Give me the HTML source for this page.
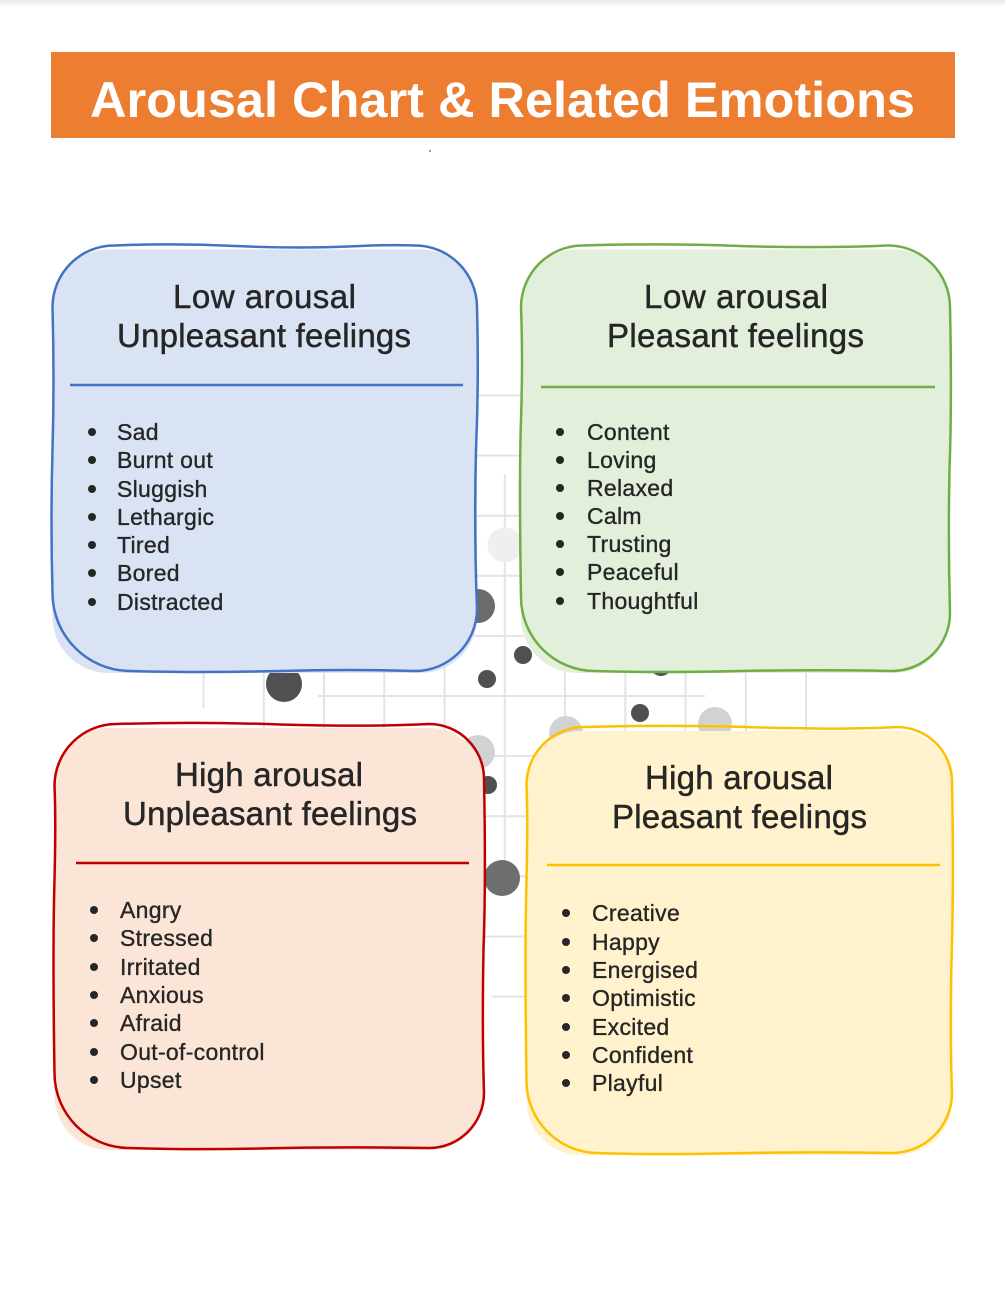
<!DOCTYPE html>
<html>
<head>
<meta charset="utf-8">
<style>
html,body{margin:0;padding:0;background:#fff;}
body{width:1005px;height:1306px;overflow:hidden;position:relative;}
svg{position:absolute;left:0;top:0;}
.t{font-family:"Liberation Sans",Arial,sans-serif;fill:#262626;stroke:#262626;stroke-width:0.45px;}
.h{font-size:33px;}
.li{font-size:23px;letter-spacing:0.3px;stroke-width:0.35px;}
</style>
</head>
<body>
<svg width="1005" height="1306" viewBox="0 0 1005 1306" xmlns="http://www.w3.org/2000/svg">
  <defs>
    <linearGradient id="topg" x1="0" y1="0" x2="0" y2="1">
      <stop offset="0" stop-color="#e9e9e9"/>
      <stop offset="1" stop-color="#ffffff"/>
    </linearGradient>
  </defs>
  <rect x="0" y="0" width="1005" height="7" fill="url(#topg)"/>

  <!-- Title bar -->
  <rect x="51" y="52" width="904" height="86" fill="#ed7d31"/>
  <text x="502.5" y="117" text-anchor="middle" textLength="825" lengthAdjust="spacingAndGlyphs" font-family="Liberation Sans, Arial, sans-serif" font-weight="bold" font-size="50" fill="#ffffff">Arousal Chart &amp; Related Emotions</text>
  <rect x="429" y="150" width="2" height="2" fill="#ed7d31"/>

  <!-- Background grid -->
  <g stroke="#e4e4e4" stroke-width="2" fill="none">
    <line x1="203.5" y1="395" x2="203.5" y2="708"/>
    <line x1="263.8" y1="395" x2="263.8" y2="996"/>
    <line x1="324" y1="395" x2="324" y2="996"/>
    <line x1="384.3" y1="395" x2="384.3" y2="996"/>
    <line x1="444.6" y1="395" x2="444.6" y2="996"/>
    <line x1="504.8" y1="474" x2="504.8" y2="878"/>
    <line x1="565" y1="395" x2="565" y2="996"/>
    <line x1="625.3" y1="395" x2="625.3" y2="996"/>
    <line x1="685.6" y1="395" x2="685.6" y2="996"/>
    <line x1="745.8" y1="395" x2="745.8" y2="996"/>
    <line x1="806" y1="395" x2="806" y2="996"/>

    <line x1="203" y1="395.5" x2="806" y2="395.5"/>
    <line x1="203" y1="455.6" x2="806" y2="455.6"/>
    <line x1="203" y1="515.7" x2="806" y2="515.7"/>
    <line x1="203" y1="575.8" x2="806" y2="575.8"/>
    <line x1="203" y1="636" x2="806" y2="636"/>
    <line x1="318" y1="696" x2="705" y2="696"/>
    <line x1="203" y1="756" x2="806" y2="756"/>
    <line x1="203" y1="816.3" x2="806" y2="816.3"/>
    <line x1="203" y1="876.4" x2="806" y2="876.4"/>
    <line x1="203" y1="936.5" x2="806" y2="936.5"/>
    <line x1="492" y1="996.6" x2="806" y2="996.6"/>
  </g>

  <!-- Background circles -->
  <circle cx="505" cy="545" r="17.5" fill="#efefef"/>
  <circle cx="478" cy="606" r="17" fill="#6b6b6b"/>
  <circle cx="661" cy="665" r="11" fill="#505050"/>
  <circle cx="284" cy="684" r="18" fill="#505050"/>
  <circle cx="487" cy="679" r="9" fill="#505050"/>
  <circle cx="523" cy="655" r="9" fill="#505050"/>
  <circle cx="478" cy="752" r="17" fill="#d2d2d2"/>
  <circle cx="488" cy="785" r="9" fill="#505050"/>
  <circle cx="502" cy="878" r="18" fill="#6e6e6e"/>
  <circle cx="640" cy="713" r="9" fill="#505050"/>
  <circle cx="715" cy="724" r="17" fill="#d2d2d2"/>
  <circle cx="566" cy="733" r="17" fill="#d2d2d2"/>

  <!-- Blue box -->
  <rect x="52.5" y="249.5" width="424.5" height="423.5" rx="56" fill="#dae3f3"/>
  <path d="M 114.5 245.5 Q 175 243 235 246 Q 300 249 360 246 Q 390 244.5 415 245.5 C 449 245.5 477 273 477 307.5 Q 479 380 476 450 Q 474 530 477 609 C 477 643 449 671 415 671 Q 350 669 280 671 Q 200 673 130.5 671 C 87.5 671 52.5 636 52.5 593 Q 50.5 520 52.5 450 Q 54.5 380 52.5 307.5 C 52.5 273 80 245.5 114.5 245.5 Z" fill="none" stroke="#4472c4" stroke-width="2.5"/>
  <line x1="70" y1="385" x2="463" y2="385" stroke="#4472c4" stroke-width="2.5"/>

  <!-- Green box -->
  <rect x="521" y="249.5" width="429" height="423.5" rx="56" fill="#e2efda"/>
  <path d="M 583 245.5 Q 660 243 740 246 Q 820 248.5 888 245.5 C 922.2 245.5 950 273.3 950 307.5 Q 952 400 949.5 470 Q 948 540 950 613 C 950 645 924 671 892 671 Q 820 669.5 740 671 Q 660 673 595 671 C 554.1 671 521 637.9 521 597 Q 519 480 521 420 Q 523 360 521 307.5 C 521 273.3 548.8 245.5 583 245.5 Z" fill="none" stroke="#70ad47" stroke-width="2.5"/>
  <line x1="541" y1="387" x2="935" y2="387" stroke="#70ad47" stroke-width="2.5"/>

  <!-- Red box -->
  <rect x="54.5" y="728" width="429.5" height="422" rx="54" fill="#fbe5d6"/>
  <path d="M 116.5 724 Q 200 721.5 280 724.5 Q 370 727 429 724 C 459.4 724 484 748.6 484 779 Q 486 880 483.5 950 Q 482 1030 484 1093 C 484 1123.4 459.4 1148 429 1148 Q 340 1146.5 260 1148.5 Q 190 1150 129.5 1148 C 88.1 1148 54.5 1114.4 54.5 1073 Q 52.5 950 54.5 880 Q 56 820 54.5 786 C 54.5 751.8 82.3 724 116.5 724 Z" fill="none" stroke="#c00000" stroke-width="2.5"/>
  <line x1="76" y1="863" x2="469" y2="863" stroke="#c00000" stroke-width="2.5"/>

  <!-- Yellow box -->
  <rect x="526.5" y="731" width="425.5" height="424" rx="54" fill="#fff2cc"/>
  <path d="M 584.5 727 Q 680 724.5 760 727.5 Q 850 730 897 727 C 927.4 727 952 751.6 952 782 Q 954 880 951.5 960 Q 950 1040 952 1093 C 952 1126.1 925.1 1153 892 1153 Q 800 1151.5 720 1153.5 Q 650 1155 598.5 1153 C 558.7 1153 526.5 1120.8 526.5 1081 Q 524.5 950 526.5 880 Q 528 820 526.5 785 C 526.5 753 552.5 727 584.5 727 Z" fill="none" stroke="#ffc000" stroke-width="2.5"/>
  <line x1="547" y1="865" x2="940" y2="865" stroke="#ffc000" stroke-width="2.5"/>

  <!-- Blue text -->
  <text class="t h" x="264.5" y="308" text-anchor="middle" textLength="183">Low arousal</text>
  <text class="t h" x="264" y="347" text-anchor="middle" textLength="294">Unpleasant feelings</text>
  <g fill="#262626">
    <circle cx="92" cy="432" r="4"/><circle cx="92" cy="460" r="4"/><circle cx="92" cy="489" r="4"/><circle cx="92" cy="517" r="4"/><circle cx="92" cy="545" r="4"/><circle cx="92" cy="573" r="4"/><circle cx="92" cy="602" r="4"/>
  </g>
  <text class="t li" x="117" y="440">Sad</text>
  <text class="t li" x="117" y="468">Burnt out</text>
  <text class="t li" x="117" y="497">Sluggish</text>
  <text class="t li" x="117" y="525">Lethargic</text>
  <text class="t li" x="117" y="553">Tired</text>
  <text class="t li" x="117" y="581">Bored</text>
  <text class="t li" x="117" y="610">Distracted</text>

  <!-- Green text -->
  <text class="t h" x="736" y="308" text-anchor="middle" textLength="184">Low arousal</text>
  <text class="t h" x="735.5" y="347" text-anchor="middle" textLength="257">Pleasant feelings</text>
  <g fill="#262626">
    <circle cx="560" cy="432" r="4"/><circle cx="560" cy="460" r="4"/><circle cx="560" cy="488" r="4"/><circle cx="560" cy="516" r="4"/><circle cx="560" cy="544" r="4"/><circle cx="560" cy="572" r="4"/><circle cx="560" cy="601" r="4"/>
  </g>
  <text class="t li" x="587" y="440">Content</text>
  <text class="t li" x="587" y="468">Loving</text>
  <text class="t li" x="587" y="496">Relaxed</text>
  <text class="t li" x="587" y="524">Calm</text>
  <text class="t li" x="587" y="552">Trusting</text>
  <text class="t li" x="587" y="580">Peaceful</text>
  <text class="t li" x="587" y="609">Thoughtful</text>

  <!-- Red text -->
  <text class="t h" x="269" y="786" text-anchor="middle" textLength="188">High arousal</text>
  <text class="t h" x="270" y="825" text-anchor="middle" textLength="294">Unpleasant feelings</text>
  <g fill="#262626">
    <circle cx="94" cy="910" r="4"/><circle cx="94" cy="938" r="4"/><circle cx="94" cy="967" r="4"/><circle cx="94" cy="995" r="4"/><circle cx="94" cy="1023" r="4"/><circle cx="94" cy="1052" r="4"/><circle cx="94" cy="1080" r="4"/>
  </g>
  <text class="t li" x="120" y="918">Angry</text>
  <text class="t li" x="120" y="946">Stressed</text>
  <text class="t li" x="120" y="975">Irritated</text>
  <text class="t li" x="120" y="1003">Anxious</text>
  <text class="t li" x="120" y="1031">Afraid</text>
  <text class="t li" x="120" y="1060">Out-of-control</text>
  <text class="t li" x="120" y="1088">Upset</text>

  <!-- Yellow text -->
  <text class="t h" x="739" y="789" text-anchor="middle" textLength="188">High arousal</text>
  <text class="t h" x="739.5" y="828" text-anchor="middle" textLength="255">Pleasant feelings</text>
  <g fill="#262626">
    <circle cx="566" cy="913" r="4"/><circle cx="566" cy="942" r="4"/><circle cx="566" cy="970" r="4"/><circle cx="566" cy="998" r="4"/><circle cx="566" cy="1027" r="4"/><circle cx="566" cy="1055" r="4"/><circle cx="566" cy="1083" r="4"/>
  </g>
  <text class="t li" x="592" y="921">Creative</text>
  <text class="t li" x="592" y="950">Happy</text>
  <text class="t li" x="592" y="978">Energised</text>
  <text class="t li" x="592" y="1006">Optimistic</text>
  <text class="t li" x="592" y="1035">Excited</text>
  <text class="t li" x="592" y="1063">Confident</text>
  <text class="t li" x="592" y="1091">Playful</text>
</svg>
</body>
</html>
